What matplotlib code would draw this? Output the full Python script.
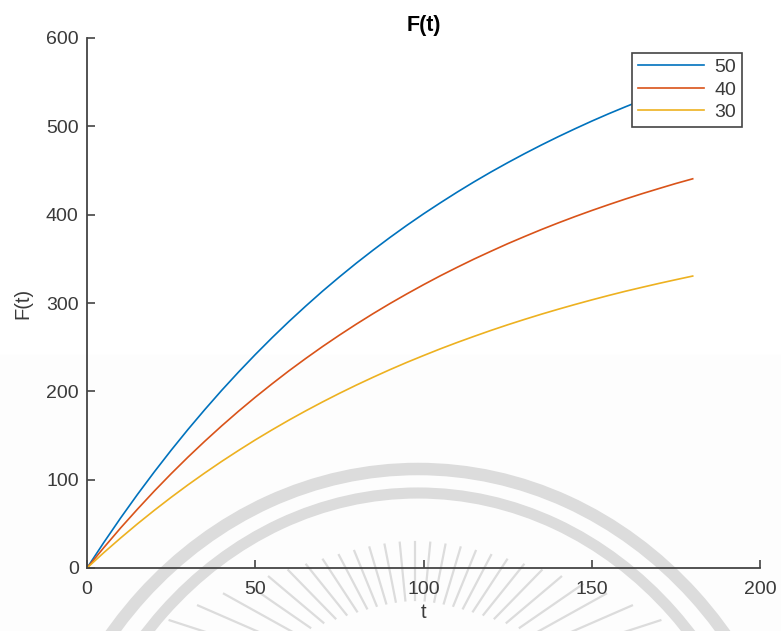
import numpy as np
import matplotlib
matplotlib.use("Agg")
import matplotlib.pyplot as plt
from matplotlib.patches import Arc

# data
t = [0, 5, 10, 15, 20, 25, 30, 35, 40, 45, 50, 55, 60, 65, 70, 75, 80, 85, 90,
     95, 100, 105, 110, 115, 120, 125, 130, 135, 140, 145, 150, 155, 160, 165, 170, 175, 180]
f50 = [0, 28.9, 56.7, 83.3, 108.8, 133.3, 156.8, 179.3, 201.0, 221.7, 241.6, 260.7, 279.0,
       296.5, 313.4, 329.5, 345.0, 359.8, 374.1, 387.8, 400.9, 413.4, 425.5, 437.1, 448.2,
       458.8, 469.0, 478.8, 488.2, 497.2, 505.9, 514.2, 522.1, 529.7, 537.1, 544.1, 550.8]
f40 = [0, 23.1, 45.4, 66.6, 87.1, 106.7, 125.5, 143.5, 160.8, 177.4, 193.3, 208.5, 223.2,
       237.2, 250.7, 263.6, 276.0, 287.9, 299.3, 310.2, 320.7, 330.8, 340.4, 349.7, 358.5,
       367.1, 375.2, 383.1, 390.6, 397.8, 404.7, 411.3, 417.7, 423.8, 429.6, 435.3, 440.6]
f30 = [0, 17.4, 34.0, 50.0, 65.3, 80.0, 94.1, 107.6, 120.6, 133.0, 145.0, 156.4, 167.4,
       177.9, 188.0, 197.7, 207.0, 215.9, 224.5, 232.7, 240.5, 248.1, 255.3, 262.2, 268.9,
       275.3, 281.4, 287.3, 292.9, 298.3, 303.5, 308.5, 313.3, 317.8, 322.2, 326.4, 330.5]
labels = ["50", "40", "30"]
colors = ["#0072BD", "#D95319", "#EDB120"]
xticks = [0, 50, 100, 150, 200]
yticks = [0, 100, 200, 300, 400, 500, 600]

plt.rcParams['font.family'] = ['Liberation Sans', 'DejaVu Sans']
W, H = 781, 631
fig = plt.figure(figsize=(W / 100, H / 100), dpi=100)
fig.patch.set_facecolor('white')

# background watermark (decorative)
bg = fig.add_axes([0, 0, 1, 1], zorder=0)
bg.set_xlim(0, W)
bg.set_ylim(H, 0)
bg.axis('off')
bg.axhspan(355, H, color='#fdfdfd', zorder=0)
wm = '#dcdcdc'
bg.add_patch(Arc((418, 900), 780, 862, theta1=0, theta2=360, color=wm, lw=9, zorder=1))
bg.add_patch(Arc((418, 900), 720, 814, theta1=0, theta2=360, color=wm, lw=8, zorder=1))
cx, cy = 415, 700
for ang in np.linspace(-72, 72, 27):
    a = np.deg2rad(ang)
    k = (abs(ang) / 72) ** 3
    r1, r2 = 100 + 60 * k, 158 + 100 * k
    bg.plot([cx + r1 * np.sin(a), cx + r2 * np.sin(a)],
            [cy - r1 * np.cos(a), cy - r2 * np.cos(a)], color=wm, lw=1.6, zorder=1)

ax = fig.add_axes([87 / W, 1 - 568 / H, (760 - 87) / W, (568 - 38) / H], zorder=2)
ax.patch.set_alpha(0)
for ys, lab, c in zip([f50, f40, f30], labels, colors):
    ax.plot(t, ys, color=c, lw=1.2, label=lab)

ax.set_xlim(0, 200)
ax.set_ylim(0, 600)
ax.set_xticks(xticks)
ax.set_yticks(yticks)
axc = '#3a3a3a'
for s in ['top', 'right']:
    ax.spines[s].set_visible(False)
for s in ['left', 'bottom']:
    ax.spines[s].set_color('#444444')
    ax.spines[s].set_linewidth(1.3)
ax.tick_params(direction='in', length=6, width=1.2, colors='#444444', labelcolor=axc,
               labelsize=14)
ax.tick_params(axis='x', pad=9)
ax.tick_params(axis='y', pad=6)
ax.set_title('F(t)', fontsize=15.5, fontweight='bold', color='black', pad=5)
ax.set_xlabel('t', fontsize=14.5, color=axc, labelpad=4)
ax.set_ylabel('F(t)', fontsize=14.5, color=axc, labelpad=10)

leg = ax.legend(loc='upper right', bbox_to_anchor=(0.973, 0.972), fontsize=14,
                frameon=True, fancybox=False, edgecolor='#444444', framealpha=1,
                handlelength=3.4, handletextpad=0.5, borderpad=0.3, labelspacing=0.25,
                borderaxespad=0)
leg.get_frame().set_linewidth(1.2)
for txt in leg.get_texts():
    txt.set_color(axc)

fig.savefig('out.png', dpi=100)
